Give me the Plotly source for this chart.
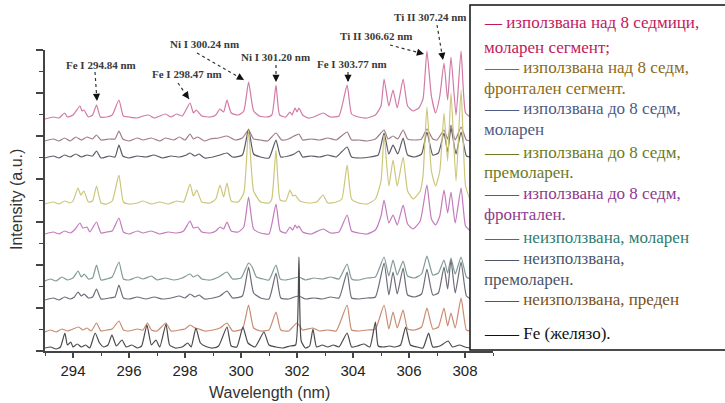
import plotly.graph_objects as go

# ---------------- data (wavelength nm, intensity a.u., offsets included) ----------------
wl_over8_molar = [293.0, 293.3, 293.5, 293.7, 293.8, 294.0, 294.25, 294.32, 294.39, 294.55, 294.7, 294.84, 294.98,
                  295.2, 295.4, 295.64, 295.8, 296.0, 296.3, 296.5, 296.7, 296.9, 297.1, 297.3, 297.5, 297.7, 297.9,
                  298.18, 298.3, 298.4, 298.6, 298.9, 299.1, 299.25, 299.38, 299.5, 299.65, 299.9, 300.1, 300.27,
                  300.45, 300.65, 300.9, 301.1, 301.25, 301.38, 301.6, 301.75, 301.82, 301.93, 302.0, 302.07, 302.2,
                  302.4, 302.6, 302.93, 303.2, 303.5, 303.79, 303.95, 304.2, 304.5, 304.8, 305.0, 305.11, 305.28,
                  305.43, 305.58, 305.79, 305.95, 306.15, 306.35, 306.5, 306.64, 306.8, 306.95, 307.1, 307.25,
                  307.38, 307.5, 307.68, 307.86, 308.02, 308.2]
int_over8_molar = [232, 234, 233, 238, 234, 236, 245, 240, 241, 234, 236, 246, 234,
                   234, 236, 251, 235, 234, 233, 235, 236, 233, 235, 237, 234, 237, 235,
                   248, 238, 241, 235, 234, 236, 242, 239, 251, 238, 236, 240, 269,
                   240, 235, 234, 236, 266, 236, 234, 239, 236, 243, 239, 243, 236,
                   233, 234, 238, 234, 235, 266, 237, 234, 233, 236, 245, 272, 245,
                   261, 243, 272, 245, 240, 243, 252, 300, 255, 238, 255, 288,
                   251, 294, 236, 300, 238, 234]

wl_over8_front = [293.0, 293.3, 293.5, 293.7, 293.9, 294.1, 294.3, 294.5, 294.7, 294.84, 295.0, 295.3, 295.5, 295.64,
                  295.78, 296.0, 296.3, 296.5, 296.8, 297.1, 297.3, 297.6, 297.8, 298.0, 298.18, 298.3, 298.45, 298.7,
                  298.9, 299.2, 299.5, 299.8, 300.05, 300.27, 300.45, 300.7, 300.95, 301.25, 301.45, 301.7, 301.9,
                  302.07, 302.2, 302.5, 302.8, 303.1, 303.4, 303.79, 303.95, 304.2, 304.5, 304.8, 305.11, 305.25,
                  305.43, 305.6, 305.79, 305.95, 306.2, 306.45, 306.64, 306.85, 307.0, 307.25, 307.38, 307.5,
                  307.65, 307.86, 308.05, 308.2]
int_over8_front = [210, 212, 210, 213, 210, 214, 211, 214, 212, 216, 211, 212, 212, 220,
                   212, 210, 213, 211, 213, 210, 213, 211, 214, 211, 217, 212, 214, 210,
                   212, 213, 215, 211, 213, 221, 212, 211, 210, 218, 211, 212, 215,
                   217, 211, 212, 211, 213, 211, 219, 211, 211, 210, 212, 221, 212,
                   215, 212, 221, 212, 211, 212, 222, 212, 211, 221, 212, 226,
                   211, 224, 211, 210]

wl_upto8_molar = [293.0, 293.3, 293.5, 293.7, 293.9, 294.1, 294.3, 294.5, 294.7, 294.84, 295.0, 295.3, 295.5, 295.64,
                  295.78, 296.0, 296.3, 296.6, 296.9, 297.2, 297.5, 297.8, 298.05, 298.18, 298.35, 298.5, 298.7,
                  299.0, 299.25, 299.5, 299.7, 300.05, 300.27, 300.45, 300.7, 301.0, 301.25, 301.42, 301.7, 301.9,
                  302.07, 302.2, 302.5, 302.8, 303.1, 303.4, 303.79, 303.95, 304.3, 304.6, 304.9, 305.11, 305.28,
                  305.43, 305.6, 305.79, 305.95, 306.2, 306.45, 306.64, 306.85, 307.05, 307.25, 307.38, 307.5,
                  307.68, 307.86, 308.05, 308.2]
int_upto8_molar = [193, 195, 193, 196, 194, 197, 194, 196, 195, 200, 193, 195, 194, 206,
                   195, 193, 195, 194, 196, 193, 195, 194, 196, 198, 195, 197, 193,
                   194, 196, 198, 194, 196, 222, 197, 194, 193, 211, 194, 195, 197,
                   200, 194, 195, 194, 196, 194, 204, 194, 193, 194, 196, 218, 197,
                   206, 197, 213, 196, 194, 197, 219, 196, 198, 218, 199, 223,
                   197, 219, 195, 194]

wl_upto8_premolar = [293.0, 293.3, 293.5, 293.7, 293.9, 294.0, 294.18, 294.28, 294.39, 294.55, 294.7, 294.84, 295.0,
                     295.2, 295.4, 295.64, 295.8, 296.0, 296.3, 296.5, 296.8, 297.1, 297.4, 297.7, 297.95, 298.18,
                     298.3, 298.42, 298.6, 298.9, 299.1, 299.25, 299.38, 299.5, 299.65, 299.9, 300.1, 300.27, 300.45,
                     300.7, 301.0, 301.1, 301.25, 301.4, 301.6, 301.75, 301.85, 301.93, 302.1, 302.4, 302.7, 302.93,
                     303.1, 303.4, 303.6, 303.79, 303.95, 304.2, 304.5, 304.8, 305.0, 305.11, 305.28, 305.43, 305.58,
                     305.79, 305.95, 306.15, 306.4, 306.5, 306.64, 306.8, 306.95, 307.1, 307.25, 307.38, 307.5,
                     307.68, 307.86, 308.02, 308.2]
int_upto8_premolar = [147, 149, 147, 150, 148, 150, 163, 156, 160, 149, 150, 165, 148,
                      147, 150, 176, 149, 147, 148, 150, 147, 149, 147, 150, 149, 167,
                      155, 161, 149, 148, 152, 166, 154, 168, 150, 149, 158, 221, 160,
                      149, 148, 152, 201, 151, 150, 161, 155, 156, 150, 148, 149, 156,
                      148, 149, 152, 186, 152, 148, 147, 152, 170, 216, 165, 191, 165,
                      194, 160, 152, 160, 175, 244, 180, 165, 180, 238, 190, 258,
                      170, 261, 165, 150]

wl_upto8_front = [293.0, 293.3, 293.5, 293.7, 293.9, 294.05, 294.25, 294.35, 294.5, 294.6, 294.84, 295.0, 295.2,
                  295.4, 295.64, 295.8, 296.0, 296.3, 296.5, 296.8, 297.1, 297.4, 297.7, 297.95, 298.18, 298.3,
                  298.45, 298.6, 298.9, 299.1, 299.25, 299.38, 299.5, 299.65, 299.9, 300.1, 300.27, 300.45, 300.7,
                  301.0, 301.25, 301.4, 301.6, 301.75, 301.85, 301.93, 302.0, 302.07, 302.2, 302.5, 302.93, 303.2,
                  303.5, 303.79, 303.95, 304.2, 304.5, 304.8, 305.0, 305.11, 305.28, 305.43, 305.58, 305.79,
                  305.95, 306.15, 306.4, 306.64, 306.8, 306.95, 307.1, 307.25, 307.38, 307.5, 307.65, 307.86,
                  308.02, 308.2]
int_upto8_front = [117, 119, 117, 120, 118, 121, 128, 123, 124, 119, 129, 118, 119,
                   120, 133, 119, 117, 120, 118, 120, 117, 119, 118, 120, 130, 123,
                   124, 119, 118, 120, 124, 122, 129, 120, 119, 124, 154, 122, 118,
                   117, 147, 120, 118, 124, 121, 126, 123, 125, 119, 117, 122, 118,
                   119, 136, 120, 118, 117, 121, 135, 151, 128, 136, 126, 146,
                   127, 122, 130, 166, 132, 126, 135, 161, 138, 159, 128, 163,
                   125, 120]

wl_unused_molar = [293.0, 293.2, 293.4, 293.6, 293.8, 294.0, 294.18, 294.3, 294.4, 294.55, 294.7, 294.84, 295.0,
                   295.2, 295.4, 295.64, 295.8, 296.0, 296.3, 296.5, 296.8, 297.0, 297.3, 297.6, 297.9, 298.18,
                   298.3, 298.45, 298.6, 298.9, 299.2, 299.5, 299.7, 300.0, 300.1, 300.27, 300.4, 300.55, 300.8,
                   301.0, 301.25, 301.4, 301.6, 301.9, 302.07, 302.3, 302.6, 302.9, 303.2, 303.5, 303.79, 303.95,
                   304.2, 304.5, 304.8, 305.11, 305.28, 305.43, 305.58, 305.79, 305.95, 306.2, 306.45, 306.64,
                   306.85, 307.05, 307.25, 307.38, 307.5, 307.65, 307.86, 308.05, 308.2]
int_unused_molar = [70, 72, 70, 74, 71, 73, 80, 74, 77, 72, 73, 86, 71,
                    72, 74, 89, 72, 71, 74, 72, 75, 71, 73, 71, 73, 77,
                    74, 76, 72, 71, 74, 79, 72, 73, 78, 88, 84, 74, 72,
                    71, 86, 72, 71, 73, 74, 71, 73, 72, 74, 72, 87, 72,
                    71, 73, 74, 94, 75, 91, 76, 90, 75, 73, 77, 95,
                    76, 78, 91, 78, 93, 77, 94, 74, 72]

wl_unused_premolar = [293.0, 293.3, 293.5, 293.7, 293.9, 294.05, 294.18, 294.3, 294.4, 294.55, 294.7, 294.84, 295.0,
                      295.3, 295.5, 295.64, 295.8, 296.0, 296.3, 296.6, 296.9, 297.2, 297.5, 297.8, 298.0, 298.18,
                      298.35, 298.5, 298.7, 299.0, 299.25, 299.5, 299.7, 300.05, 300.27, 300.45, 300.7, 301.0, 301.25,
                      301.42, 301.7, 301.9, 302.07, 302.3, 302.6, 302.9, 303.2, 303.5, 303.79, 303.95, 304.2, 304.5,
                      304.8, 305.11, 305.28, 305.43, 305.58, 305.79, 305.95, 306.2, 306.45, 306.64, 306.85, 307.05,
                      307.25, 307.38, 307.5, 307.65, 307.86, 308.05, 308.2]
int_unused_premolar = [51, 53, 51, 54, 52, 54, 59, 55, 57, 53, 54, 62, 52,
                       53, 54, 66, 53, 52, 54, 52, 54, 52, 53, 55, 53, 57,
                       54, 56, 52, 53, 55, 60, 53, 55, 84, 58, 53, 52, 78,
                       53, 52, 54, 55, 52, 53, 52, 54, 53, 79, 53, 52, 53,
                       54, 88, 56, 79, 57, 83, 56, 54, 57, 82, 56, 58,
                       84, 62, 91, 58, 89, 55, 52]

wl_unused_front = [293.0, 293.2, 293.4, 293.6, 293.8, 294.0, 294.2, 294.35, 294.5, 294.65, 294.84, 295.0, 295.2,
                   295.4, 295.64, 295.8, 296.0, 296.3, 296.5, 296.66, 296.8, 297.0, 297.32, 297.5, 297.8, 298.0,
                   298.18, 298.35, 298.5, 298.7, 299.0, 299.25, 299.5, 299.7, 300.05, 300.27, 300.45, 300.7, 301.0,
                   301.25, 301.42, 301.7, 302.0, 302.2, 302.57, 302.8, 303.1, 303.4, 303.79, 303.95, 304.2, 304.5,
                   304.8, 305.11, 305.28, 305.43, 305.58, 305.79, 305.95, 306.2, 306.45, 306.64, 306.85, 307.05,
                   307.25, 307.38, 307.5, 307.65, 307.86, 308.05, 308.2]
int_unused_front = [19, 21, 19, 22, 20, 22, 24, 21, 23, 20, 28, 20, 21,
                    22, 30, 21, 20, 22, 21, 28, 21, 20, 28, 20, 21, 22,
                    26, 23, 22, 20, 21, 23, 28, 20, 22, 46, 23, 20, 21,
                    39, 21, 20, 28, 21, 23, 20, 21, 20, 46, 21, 20, 21,
                    22, 46, 22, 39, 23, 41, 22, 21, 24, 43, 22, 24,
                    43, 25, 38, 23, 53, 21, 20]

wl_fe = [293.0, 293.2, 293.4, 293.55, 293.71, 293.8, 293.92, 294.0, 294.15, 294.3, 294.45, 294.6, 294.79, 294.95,
         295.1, 295.25, 295.39, 295.55, 295.75, 295.9, 296.1, 296.3, 296.45, 296.64, 296.8, 296.96, 297.1, 297.32,
         297.45, 297.65, 297.9, 298.1, 298.22, 298.39, 298.55, 298.8, 299.0, 299.2, 299.5, 299.65, 299.85, 300.07,
         300.25, 300.5, 300.82, 301.0, 301.25, 301.5, 301.75, 301.95, 302.07, 302.15, 302.3, 302.45, 302.57, 302.7,
         302.9, 303.1, 303.3, 303.5, 303.79, 303.95, 304.15, 304.4, 304.6, 304.8, 304.9, 305.1, 305.3, 305.5,
         305.7, 305.88, 306.05, 306.3, 306.5, 306.7, 306.85, 307.1, 307.4, 307.55, 307.8, 308.0, 308.2]
int_fe = [3, 4, 2, 4, 18, 6, 9, 4, 7, 4, 6, 3, 18, 8,
          4, 6, 16, 5, 11, 4, 6, 3, 5, 26, 6, 11, 4, 27,
          6, 3, 4, 8, 4, 23, 8, 4, 3, 5, 24, 5, 4, 24,
          8, 4, 19, 6, 4, 3, 5, 6, 94, 10, 3, 5, 22, 4,
          6, 4, 6, 4, 18, 4, 5, 7, 4, 29, 5, 4, 5, 4,
          6, 24, 6, 4, 3, 18, 4, 5, 10, 4, 6, 4, 3]

series_wl = [wl_over8_molar, wl_over8_front, wl_upto8_molar, wl_upto8_premolar, wl_upto8_front,
             wl_unused_molar, wl_unused_premolar, wl_unused_front, wl_fe]
series_int = [int_over8_molar, int_over8_front, int_upto8_molar, int_upto8_premolar, int_upto8_front,
              int_unused_molar, int_unused_premolar, int_unused_front, int_fe]
series_names = ["използвана над 8 седмици, моларен сегмент", "използвана над 8 седм, фронтален сегмент",
                "използвана до 8 седм, моларен", "използвана до 8 седм, премоларен",
                "използвана до 8 седм, фронтален", "неизползвана, моларен", "неизползвана, премоларен",
                "неизползвана, преден", "Fe (желязо)"]
line_colors = ["#d27aa6", "#a27c86", "#5c5b66", "#cdc67a", "#c47bbd", "#819b96", "#6e6b79", "#c98c72", "#4a4a4c"]

# legend text (wrapped lines) and colours
legend_lines = ["— използвана над 8 седмици,", "моларен сегмент;",
                "—— използвана над 8 седм,", "фронтален сегмент.",
                "—— използвана до 8 седм,", "моларен",
                "—— използвана до 8 седм,", "премоларен.",
                "—— използвана до 8 седм,", "фронтален.",
                "—— неизползвана, моларен",
                "—— неизползвана,", "премоларен.",
                "—— неизползвана, преден",
                "—— Fe (желязо)."]
legend_colors = ["#c2185b", "#c2185b", "#8a6a1c", "#8a6a1c", "#4c5a86", "#4c5a86", "#6b7a1e", "#6b7a1e",
                 "#8e3a8e", "#8e3a8e", "#2e7d6e", "#4a5568", "#4a5568", "#7a5020", "#111111"]
legend_line_y = [23, 47, 68, 88, 109, 129, 152, 172, 193, 215, 237, 258, 279, 299, 333]

# peak labels: text, text centre (px), dotted tail start (px), arrow tip (px)
label_texts = ["Fe I 294.84 nm", "Fe I 298.47 nm", "Ni I 300.24 nm", "Ni I 301.20 nm",
               "Fe I 303.77 nm", "Ti II 306.62 nm", "Ti II 307.24 nm"]
label_pos = [(101, 65), (187, 74), (204, 44), (275, 57), (352, 64), (376, 36), (430, 17)]
label_tail = [(95, 72), (178, 83), (197, 53), (276, 65), (348, 72), (390, 45), (437, 25)]
label_tip = [(97, 101), (189, 99), (244, 80), (276, 82), (348, 82), (424, 54), (443, 60)]

SERIF = "Liberation Serif, Times New Roman, serif"
SANS = "Arial, Liberation Sans, sans-serif"

# ---------------- figure ----------------
L, R, T, B = 45, 493, 50, 351
W, H = 725, 403


def px_to_paper(px, py):
    return (px - L) / (R - L), (B - py) / (B - T)


fig = go.Figure()
for wl, it, name, col in zip(series_wl, series_int, series_names, line_colors):
    fig.add_trace(go.Scatter(x=wl, y=it, mode="lines", name=name,
                             line=dict(color=col, width=1.2, shape="spline", smoothing=0.5),
                             showlegend=False))

annotations = []
shapes = []

for txt, (tx, ty), (ax0, ay0), (hx, hy) in zip(label_texts, label_pos, label_tail, label_tip):
    px_, py_ = px_to_paper(tx, ty)
    annotations.append(dict(x=px_, y=py_, xref="paper", yref="paper", text="<b>" + txt + "</b>",
                            showarrow=False, font=dict(family=SERIF, size=11, color="#3a3a3a"),
                            xanchor="center", yanchor="middle"))
    x0, y0 = px_to_paper(ax0, ay0)
    x1, y1 = px_to_paper(hx, hy)
    shapes.append(dict(type="line", xref="paper", yref="paper", x0=x0, y0=y0, x1=x1, y1=y1,
                       line=dict(color="#333333", width=1.2, dash="dot"), layer="above"))
    dx, dy = hx - ax0, hy - ay0
    n = (dx * dx + dy * dy) ** 0.5
    annotations.append(dict(x=x1, y=y1, xref="paper", yref="paper", text="", showarrow=True,
                            ax=-dx / n * 7, ay=-dy / n * 7, arrowhead=2, arrowsize=1.1,
                            arrowwidth=1.3, arrowcolor="#111111"))

# legend box
lx0, ly0 = px_to_paper(470, 350)
lx1, ly1 = px_to_paper(727, 5)
shapes.append(dict(type="rect", xref="paper", yref="paper", x0=lx0, y0=ly0, x1=lx1, y1=ly1,
                   fillcolor="white", line=dict(color="#111111", width=1.5), layer="above"))
for txt, col, yy in zip(legend_lines, legend_colors, legend_line_y):
    xx, yp = px_to_paper(482, yy)
    annotations.append(dict(x=xx, y=yp, xref="paper", yref="paper", text=txt, showarrow=False,
                            xanchor="left", yanchor="middle",
                            font=dict(family=SERIF, size=17, color=col)))

# axis titles
xt, yt = px_to_paper(269, 392)
annotations.append(dict(x=xt, y=yt, xref="paper", yref="paper", text="Wavelength (nm)", showarrow=False,
                        font=dict(family=SANS, size=16, color="#333333"),
                        xanchor="center", yanchor="middle"))
xt, yt = px_to_paper(16, 200)
annotations.append(dict(x=xt, y=yt, xref="paper", yref="paper", text="Intensity (a.u.)", showarrow=False,
                        textangle=-90, font=dict(family=SANS, size=16, color="#333333"),
                        xanchor="center", yanchor="middle"))

fig.update_layout(
    width=W, height=H,
    margin=dict(l=L, r=W - R, t=T, b=H - B, pad=0),
    paper_bgcolor="white", plot_bgcolor="white",
    annotations=annotations, shapes=shapes,
    xaxis=dict(range=[293, 309], tickmode="linear", tick0=294, dtick=2, showgrid=False, zeroline=False,
               showline=True, linecolor="#444444", linewidth=1.5, ticks="outside", ticklen=5,
               tickwidth=1.5, tickcolor="#444444",
               tickfont=dict(family=SANS, size=15, color="#222222"),
               minor=dict(tick0=293, dtick=1, ticks="outside", ticklen=3, tickcolor="#444444", tickwidth=1)),
    yaxis=dict(range=[0, 301], tickmode="linear", tick0=0, dtick=43, showgrid=False, zeroline=False,
               showline=True, linecolor="#444444", linewidth=1.5, ticks="outside", ticklen=7,
               tickwidth=1.5, tickcolor="#444444", showticklabels=False,
               minor=dict(tick0=0, dtick=21.5, ticks="outside", ticklen=4, tickcolor="#444444", tickwidth=1.2)),
)

fig.write_html("out.html")
